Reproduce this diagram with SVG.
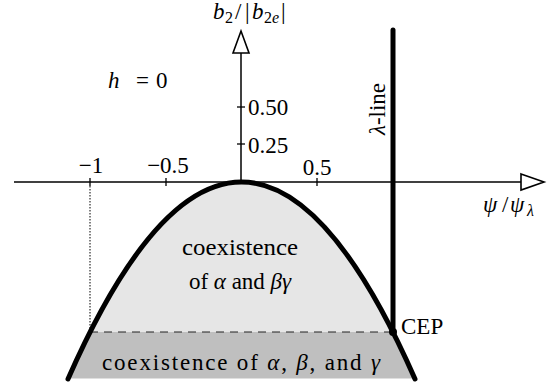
<svg xmlns="http://www.w3.org/2000/svg" width="555" height="385" viewBox="0 0 555 385">
<style>
text{font-family:Liberation Serif,DejaVu Serif,Times New Roman,serif;font-size:23px;fill:#000}
.it{font-style:italic}
.sub{font-size:16px}
.axis{stroke:#000;stroke-width:1.5;fill:none}
.arrow{fill:#fff;stroke:#000;stroke-width:1.6;stroke-linejoin:miter}
.tick{stroke:#000;stroke-width:1.3}
.thick{stroke:#000;stroke-width:5;fill:none;stroke-linecap:round}
</style>
<defs>
<clipPath id="para"><path d="M68,379 Q241.5,-15 415,379 Z"/></clipPath>
</defs>
<g id="regions" clip-path="url(#para)">
<rect x="0" y="182" width="555" height="150" fill="#e6e6e6"/>
<rect x="0" y="332" width="555" height="46.5" fill="#bfbfbf"/>
</g>
<g id="guides">
<line x1="90" y1="186" x2="90" y2="332" stroke="#000" stroke-width="1" stroke-dasharray="1.5,1.5"/>
<line x1="90" y1="332" x2="393" y2="332" stroke="#222" stroke-width="1" stroke-dasharray="8,6"/>
</g>
<g id="axes">
<line class="axis" x1="14" y1="182" x2="521" y2="182"/>
<polygon class="arrow" points="521,174 544,182 521,190"/>
<line class="axis" x1="241" y1="182" x2="241" y2="53"/>
<polygon class="arrow" points="233,53 241,31 249,53"/>
<line class="tick" x1="90" y1="178" x2="90" y2="186"/>
<line class="tick" x1="166" y1="178" x2="166" y2="186"/>
<line class="tick" x1="317" y1="178" x2="317" y2="186"/>
<line class="tick" x1="237" y1="107" x2="245" y2="107"/>
<line class="tick" x1="237" y1="144" x2="245" y2="144"/>
<text x="91" y="173" text-anchor="middle">−1</text>
<text x="168" y="173" text-anchor="middle">−0.5</text>
<text x="317" y="175" text-anchor="middle">0.5</text>
<text x="248" y="115">0.50</text>
<text x="248" y="153">0.25</text>
<text y="19"><tspan x="213" class="it">b</tspan><tspan class="sub" x="225" y="23">2</tspan><tspan x="235" y="19">/</tspan><tspan x="245" y="19">|</tspan><tspan x="252" class="it">b</tspan><tspan class="sub" x="264" y="23">2</tspan><tspan class="sub it" x="272" y="23">e</tspan><tspan x="281" y="19">|</tspan></text>
<text y="212"><tspan x="483" class="it">ψ</tspan><tspan x="502">/</tspan><tspan x="510" class="it">ψ</tspan><tspan x="527" y="216" class="sub it">λ</tspan></text>
<text y="88"><tspan x="108" class="it">h</tspan><tspan x="136">=</tspan><tspan x="156">0</tspan></text>
</g>
<g id="boundary">
<path class="thick" d="M68,379 Q241.5,-15 415,379"/>
</g>
<g id="lambda-line">
<line class="thick" x1="393" y1="30" x2="393" y2="332"/>
<text transform="translate(385,109) rotate(-90)" text-anchor="middle"><tspan class="it">λ</tspan>-line</text>
</g>
<g id="cep">
<circle cx="393" cy="332" r="4" fill="#000"/>
<text x="401" y="333.5">CEP</text>
</g>
<g id="labels">
<text x="240" y="255" text-anchor="middle" textLength="116" lengthAdjust="spacingAndGlyphs">coexistence</text>
<text x="240" y="289" text-anchor="middle">of <tspan class="it">α</tspan> and <tspan class="it">βγ</tspan></text>
<text x="241" y="370" text-anchor="middle" textLength="278" lengthAdjust="spacing">coexistence of <tspan class="it">α</tspan>, <tspan class="it">β</tspan>, and <tspan class="it">γ</tspan></text>
</g>
</svg>
